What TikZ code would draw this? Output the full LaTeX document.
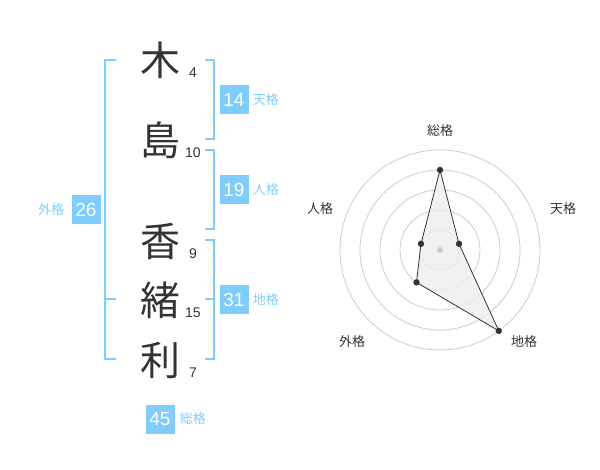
\documentclass[tikz,border=0pt]{standalone}
\usepackage{fontspec}
\setmainfont{Liberation Sans}
\newfontfamily\jpfont{Noto Sans CJK JP}
\usetikzlibrary{positioning}
\definecolor{kakublue}{RGB}{128,204,250}
\definecolor{ink}{RGB}{51,51,51}
\definecolor{ringgray}{RGB}{204,204,204}
\definecolor{areagray}{RGB}{238,238,238}

\begin{document}
\begin{tikzpicture}[x=1pt,y=-1pt,
	kanji/.style={font=\jpfont\fontsize{40}{40}\selectfont, text=ink, inner sep=0pt},
	kakusu/.style={font=\fontsize{14}{14}\selectfont, text=ink, inner sep=0pt},
	numbox/.style={fill=kakublue, text=white, font=\fontsize{19}{19}\selectfont, minimum width=29pt, minimum height=29pt, inner sep=0pt},
	kakulabel/.style={text=kakublue, font=\jpfont\fontsize{13}{13}\selectfont, inner sep=0pt},
	radarlabel/.style={text=ink, font=\jpfont\fontsize{13}{13}\selectfont, inner sep=0pt},
	bracket/.style={draw=kakublue, line width=2pt}]
	\useasboundingbox (0,0) rectangle (600,470);
	% name and stroke counts
	\foreach \ch/\y/\n/\name in {木/60/4/k1,島/140/10/k2,香/241/9/k3,緒/300/15/k4,利/360/7/k5}{
		\node[kanji] (\name) at (160,\y) {\ch};
		\node[kakusu] (\name n) at (193,\y+13) {\n};
	}
	% brackets
	\draw[bracket] (116,60) -- (105,60) -- (105,359) -- (116,359);
	\draw[bracket] (105,299) -- (116,299);
	\foreach \top/\bot in {60/139,150/229,240/359}
		\draw[bracket] (205,\top) -- (214,\top) -- (214,\bot) -- (205,\bot);
	\draw[bracket] (205,299) -- (214,299);
	% boxes
	\node[numbox] (ten) at (234,100) {14};
	\node[kakulabel, right=4pt of ten] {天格};
	\node[numbox] (jin) at (234,190) {19};
	\node[kakulabel, right=4pt of jin] {人格};
	\node[numbox] (chi) at (234,300) {31};
	\node[kakulabel, right=4pt of chi] {地格};
	\node[numbox] (gai) at (86,210) {26};
	\node[kakulabel, left=7pt of gai] {外格};
	\node[numbox] (sou) at (160,419) {45};
	\node[kakulabel, right=5pt of sou] {総格};
	% radar
	\begin{scope}[shift={(440,250)}, yscale=-1]
		\foreach \r in {20,40,...,100}
			\draw[ringgray, line width=0.8pt] (0,0) circle (\r);
		\coordinate (rs) at (90:80);
		\coordinate (rt) at (18:20);
		\coordinate (rc) at (-54:100);
		\coordinate (rg) at (234:40);
		\coordinate (rj) at (162:20);
		\draw[ink, fill=areagray, fill opacity=0.8, line width=0.8pt] (rs) -- (rt) -- (rc) -- (rg) -- (rj) -- cycle;
		\fill[ringgray] (0,0) circle (3);
		\foreach \p in {rs,rt,rc,rg,rj}
			\fill[ink] (\p) circle (3.2);
		\node[radarlabel] at (0,119) {総格};
		\node[radarlabel] at (123,41) {天格};
		\node[radarlabel] at (84,-92) {地格};
		\node[radarlabel] at (-88,-92) {外格};
		\node[radarlabel] at (-120,41) {人格};
	\end{scope}
\end{tikzpicture}
\end{document}
